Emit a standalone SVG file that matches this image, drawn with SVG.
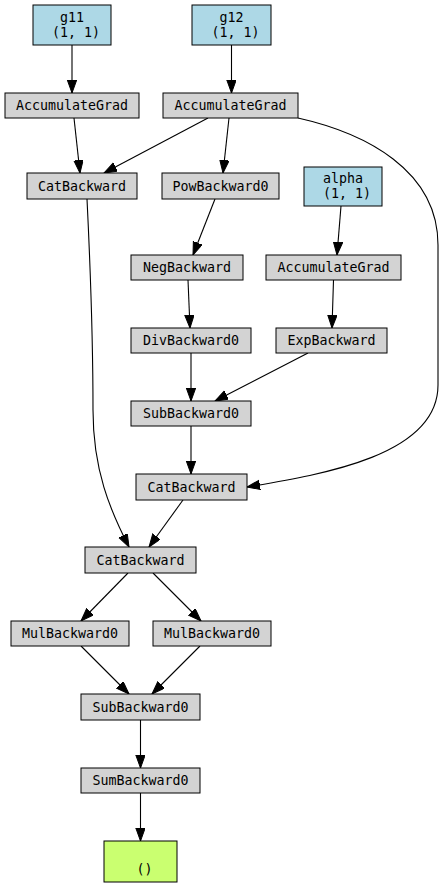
<svg xmlns="http://www.w3.org/2000/svg" width="445" height="888" viewBox="0 0 445 888">
<style>
.n rect{stroke:#000;stroke-width:1}
.leaf rect{fill:#add8e6}
.op rect{fill:#d3d3d3}
.out rect{fill:#caff70}
text{font-family:"DejaVu Sans Mono","Liberation Mono",monospace;font-size:13.3px;text-anchor:middle;dominant-baseline:central;fill:#000;white-space:pre}
.e path{fill:none;stroke:#000;stroke-width:1.1;marker-end:url(#ah)}
</style>
<defs>
<marker id="ah" markerUnits="userSpaceOnUse" markerWidth="14" markerHeight="11" refX="13" refY="4.7" orient="auto">
<path d="M0,0 L13,4.7 L0,9.4 z" fill="#000" stroke="#000" stroke-width="1"/>
</marker>
</defs>
<rect width="445" height="888" fill="#fff"/>
<g class="e" id="edges">
<path d="M72,45 L72,93"/>
<path d="M231.5,45 L231.5,93"/>
<path d="M74,118 L80,173"/>
<path d="M208,118 L104,173"/>
<path d="M229,118 L223,173"/>
<path d="M298,118 C365,133 438,170 438,245 L438,385 C438,455 325,474 247,487"/>
<path d="M87,199 C90,260 93,330 93,410 C93,470 110,510 129,547"/>
<path d="M215,199 L193,255"/>
<path d="M188,280 L190,328"/>
<path d="M341,206 L337,255"/>
<path d="M333.5,280 L332,328"/>
<path d="M191,353 L191,401"/>
<path d="M308,353 L215,401"/>
<path d="M191,426 L191,474"/>
<path d="M183,500 L149,547"/>
<path d="M128,573 L81,621"/>
<path d="M153,573 L201,621"/>
<path d="M81,646 L129,694"/>
<path d="M200,646 L152,694"/>
<path d="M140.5,720 L140.5,768"/>
<path d="M140.5,793 L140.5,841"/>
</g>
<g class="n leaf" id="g11"><rect x="33" y="5" width="78" height="40"/><text x="72" y="17.5">g11</text><text x="72" y="32.5"> (1, 1)</text></g>
<g class="n leaf" id="g12"><rect x="192" y="5" width="79" height="40"/><text x="231.5" y="17.5">g12</text><text x="231.5" y="32.5"> (1, 1)</text></g>
<g class="n op" id="acc1"><rect x="5" y="93" width="134" height="25"/><text x="72" y="105.5">AccumulateGrad</text></g>
<g class="n op" id="acc2"><rect x="163" y="93" width="135" height="25"/><text x="230.5" y="105.5">AccumulateGrad</text></g>
<g class="n op" id="cat1"><rect x="27" y="173" width="110" height="26"/><text x="82" y="186">CatBackward</text></g>
<g class="n op" id="pow"><rect x="162" y="173" width="117" height="26"/><text x="220.5" y="186">PowBackward0</text></g>
<g class="n leaf" id="alpha"><rect x="304" y="167" width="78" height="39"/><text x="343" y="178.5">alpha</text><text x="343" y="193.5"> (1, 1)</text></g>
<g class="n op" id="neg"><rect x="131" y="255" width="112" height="25"/><text x="187" y="267.5">NegBackward</text></g>
<g class="n op" id="acc3"><rect x="266" y="255" width="135" height="25"/><text x="333.5" y="267.5">AccumulateGrad</text></g>
<g class="n op" id="div"><rect x="131" y="328" width="120" height="25"/><text x="191" y="340.5">DivBackward0</text></g>
<g class="n op" id="exp"><rect x="276" y="328" width="111" height="25"/><text x="331.5" y="340.5">ExpBackward</text></g>
<g class="n op" id="sub1"><rect x="131" y="401" width="120" height="25"/><text x="191" y="413.5">SubBackward0</text></g>
<g class="n op" id="cat2"><rect x="136" y="474" width="111" height="26"/><text x="191.5" y="487">CatBackward</text></g>
<g class="n op" id="cat3"><rect x="85" y="547" width="111" height="26"/><text x="140.5" y="560">CatBackward</text></g>
<g class="n op" id="mul1"><rect x="11" y="621" width="118" height="25"/><text x="70" y="633.5">MulBackward0</text></g>
<g class="n op" id="mul2"><rect x="153" y="621" width="118" height="25"/><text x="212" y="633.5">MulBackward0</text></g>
<g class="n op" id="sub2"><rect x="81" y="694" width="119" height="26"/><text x="140.5" y="707">SubBackward0</text></g>
<g class="n op" id="sum"><rect x="81" y="768" width="119" height="25"/><text x="140.5" y="780.5">SumBackward0</text></g>
<g class="n out" id="out"><rect x="104" y="841" width="73" height="41"/><text x="140.5" y="869"> ()</text></g>
</svg>
